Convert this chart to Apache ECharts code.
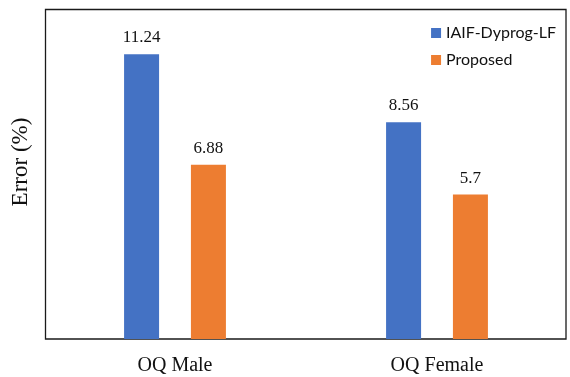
<!DOCTYPE html>
<html>
<head>
<meta charset="utf-8">
<script src="https://cdn.jsdelivr.net/npm/echarts@6/dist/echarts.min.js"></script>
<style>
  html, body { margin: 0; padding: 0; background: #fff; }
  #chart { width: 570px; height: 377px; }
</style>
</head>
<body>
<div id="chart"></div>
<script>
// Error per speaker group for the two methods
const categories = ['OQ Male', 'OQ Female'];
const seriesNames = ['IAIF-Dyprog-LF', 'Proposed'];
const baselineErr = [11.24, 8.56];
const proposedErr = [6.88, 5.7];
const yTitle = 'Error (%)';

const chart = echarts.init(document.getElementById('chart'), null, { renderer: 'canvas' });

const serif = '"Liberation Serif", "DejaVu Serif", serif';

chart.setOption({
  animation: false,
  grid: { left: 44, right: 2, top: 35, bottom: 38, containLabel: false },
  graphic: [
    {
      // plot frame
      type: 'rect',
      shape: { x: 45.5, y: 9.5, width: 520.5, height: 329.5 },
      style: { fill: 'none', stroke: '#1a1a1a', lineWidth: 1.3 },
      silent: true
    },
    {
      // y-axis title, centred on the frame rather than on the value range
      type: 'text',
      x: 21,
      y: 162,
      rotation: Math.PI / 2,
      style: {
        text: yTitle,
        fontFamily: serif,
        fontSize: 23,
        fill: '#111',
        align: 'center',
        verticalAlign: 'middle'
      },
      silent: true
    }
  ],
  legend: {
    orient: 'vertical',
    right: 9,
    top: 20,
    itemWidth: 10,
    itemHeight: 10,
    itemGap: 11,
    icon: 'rect',
    textStyle: { fontFamily: 'Lato, "Open Sans", sans-serif', fontSize: 16, color: '#111' },
    data: seriesNames
  },
  xAxis: {
    type: 'category',
    data: categories,
    axisLine: { show: false },
    axisTick: { show: false },
    axisLabel: { fontFamily: serif, fontSize: 20, color: '#111', margin: 17 }
  },
  yAxis: {
    type: 'value',
    min: 0,
    max: 12,
    axisLine: { show: false },
    axisTick: { show: false },
    axisLabel: { show: false },
    splitLine: { show: false }
  },
  series: [
    {
      name: seriesNames[0],
      type: 'bar',
      data: baselineErr,
      barWidth: 35,
      barGap: '91%',
      itemStyle: { color: '#4472C4' },
      label: { show: true, position: 'top', distance: 8, fontFamily: serif, fontSize: 17, color: '#111' }
    },
    {
      name: seriesNames[1],
      type: 'bar',
      data: proposedErr,
      barWidth: 35,
      barGap: '91%',
      itemStyle: { color: '#ED7D31' },
      label: { show: true, position: 'top', distance: 8, fontFamily: serif, fontSize: 17, color: '#111' }
    }
  ]
});
</script>
</body>
</html>
